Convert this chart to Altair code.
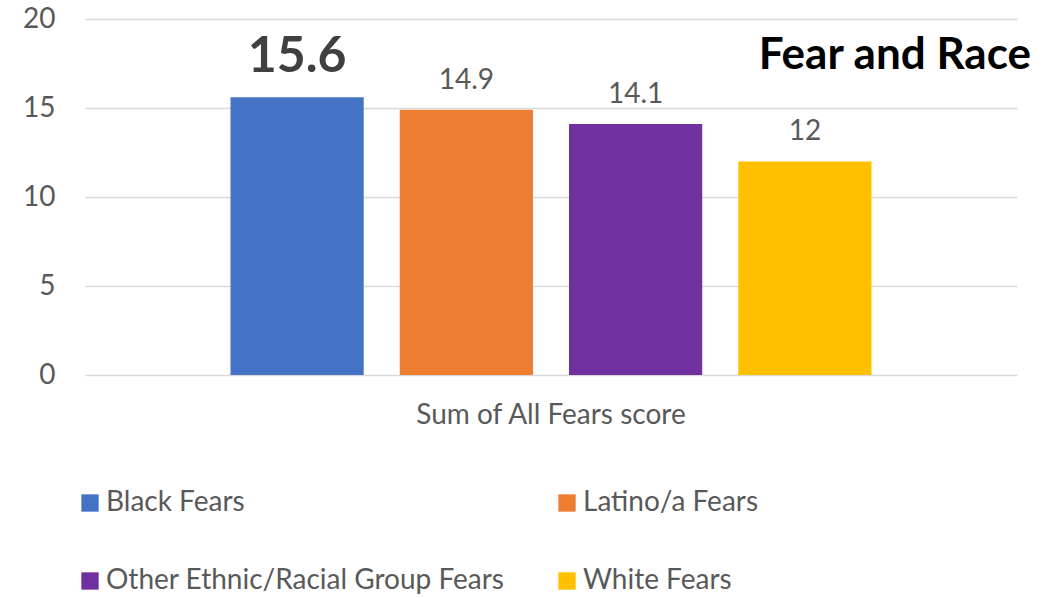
import altair as alt
import pandas as pd

categories = ["Black Fears", "Latino/a Fears", "Other Ethnic/Racial Group Fears", "White Fears"]
values = [15.6, 14.9, 14.1, 12.0]
labels = ["15.6", "14.9", "14.1", "12"]
colors = ["#4472C4", "#ED7D31", "#7030A0", "#FFC000"]
legend_order = ["Black Fears", "Other Ethnic/Racial Group Fears", "Latino/a Fears", "White Fears"]
group = "Sum of All Fears score"

df = pd.DataFrame({"series": categories, "value": values, "label": labels, "group": group})
FONT = "Lato"
GREY = "#595959"
FS = 28

x = alt.X("group:N", title=None,
          scale=alt.Scale(paddingInner=0, paddingOuter=0.227),
          axis=alt.Axis(labelAngle=0, ticks=False, domain=False, grid=False, labelPadding=26,
                        labelFontSize=FS, labelColor=GREY, labelFont=FONT, labelLimit=800))
xo = alt.XOffset("series:N", sort=categories,
                 scale=alt.Scale(paddingInner=0.213, paddingOuter=0))
y = alt.Y("value:Q", title=None,
          scale=alt.Scale(domain=[0, 20]),
          axis=alt.Axis(values=[0, 5, 10, 15, 20], ticks=False, domain=False,
                        labelPadding=30, labelFontSize=FS, labelColor=GREY, labelFont=FONT,
                        gridColor="#D9D9D9", gridWidth=1.5))

bars = alt.Chart(df).mark_bar().encode(
    x=x, xOffset=xo, y=y,
    color=alt.Color("series:N", sort=categories,
                    scale=alt.Scale(domain=categories, range=colors),
                    legend=alt.Legend(title=None, orient="none", legendX=-9, legendY=470,
                                      values=legend_order,
                                      columns=2, symbolType="square", symbolSize=300,
                                      symbolStrokeWidth=0, labelFontSize=FS, labelColor=GREY,
                                      labelFont=FONT, labelOffset=2, columnPadding=48,
                                      rowPadding=50, labelLimit=600))
)

big = alt.Chart(df).transform_filter(alt.datum.series == "Black Fears").mark_text(
    baseline="alphabetic", dy=-25, fontSize=50, fontWeight="bold", color="#404040", font=FONT
).encode(x=x, xOffset=xo, y=y, text="label:N")

small = alt.Chart(df).transform_filter(alt.datum.series != "Black Fears").mark_text(
    baseline="alphabetic", dy=-21, fontSize=FS, color=GREY, font=FONT
).encode(x=x, xOffset=xo, y=y, text="label:N")

chart = alt.layer(bars, big, small).properties(
    width=932, height=356,
    background="white",
    title=alt.TitleParams("Fear and Race", anchor="end", fontSize=44, fontWeight="bold",
                          color="#000000", font=FONT, baseline="alphabetic", dy=108, dx=14, offset=0),
    autosize=alt.AutoSizeParams(type="none"),
    padding={"left": 85, "top": 19, "right": 46, "bottom": 223},
).configure_view(strokeWidth=0, stroke="transparent"
).configure_axisX(grid=False, domain=False
).configure_axisY(domain=False)

chart.save("out.html", embed_options={"renderer": "svg", "actions": False})
